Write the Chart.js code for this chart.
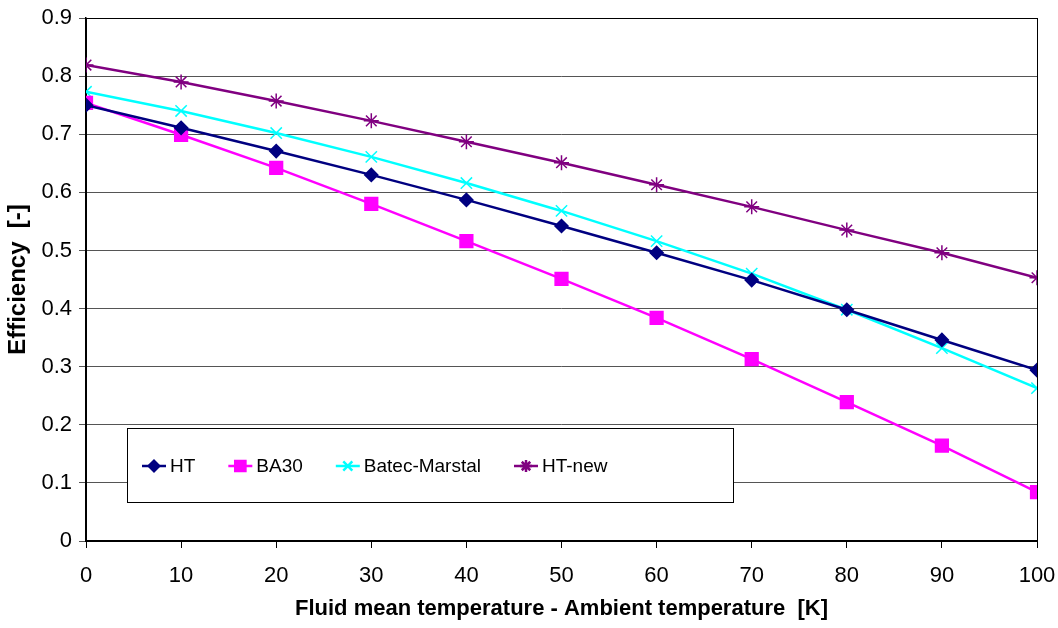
<!DOCTYPE html>
<html>
<head>
<meta charset="utf-8">
<script src="https://cdn.jsdelivr.net/npm/chart.js@4/dist/chart.umd.min.js"></script>
<style>
  html, body { margin: 0; padding: 0; background: #fff; }
  #wrap { width: 1058px; height: 628px; }
</style>
</head>
<body>
<div id="wrap"><canvas id="chart"></canvas></div>
<script>
const temps = [0, 10, 20, 30, 40, 50, 60, 70, 80, 90, 100];
const htValues = [0.750, 0.711, 0.671, 0.630, 0.587, 0.542, 0.496, 0.449, 0.398, 0.346, 0.294];
const ba30Values = [0.754, 0.699, 0.642, 0.580, 0.516, 0.451, 0.384, 0.313, 0.239, 0.164, 0.084];
const batecValues = [0.773, 0.740, 0.702, 0.661, 0.616, 0.568, 0.516, 0.460, 0.398, 0.332, 0.263];
const htNewValues = [0.819, 0.790, 0.757, 0.723, 0.687, 0.651, 0.613, 0.575, 0.535, 0.496, 0.453];
const seriesNames = ["HT", "BA30", "Batec-Marstal", "HT-new"];

const FONT = "'Liberation Sans', Arial, sans-serif";

function toPoints(values) {
    return temps.map((t, i) => ({ x: t, y: values[i] }));
}

const styles = [
    { color: "#000080", pointStyle: "rectRot", radius: 6.5 },
    { color: "#FF00FF", pointStyle: "rect", radius: 9 },
    { color: "#00FFFF", pointStyle: "crossRot", radius: 8 },
    { color: "#800080", pointStyle: "star", radius: 7.5 }
];

const allValues = [htValues, ba30Values, batecValues, htNewValues];

const datasets = allValues.map((vals, i) => ({
    label: seriesNames[i],
    data: toPoints(vals),
    borderColor: styles[i].color,
    backgroundColor: styles[i].color,
    pointBackgroundColor: styles[i].color,
    pointBorderColor: styles[i].color,
    pointStyle: styles[i].pointStyle,
    pointRadius: styles[i].radius,
    pointBorderWidth: 1.5,
    borderWidth: 2.5,
    tension: 0
}));

// frame around the plot area, drawn under the lines
const frame = {
    id: "frame",
    beforeDatasetsDraw(chart) {
        const { ctx, chartArea: a } = chart;
        ctx.save();
        ctx.strokeStyle = "#000";
        ctx.lineWidth = 1;
        ctx.strokeRect(a.left + 0.5, a.top + 0.5, a.right - a.left, a.bottom - a.top);
        ctx.restore();
    }
};

// legend box sitting inside the plot area
const boxLegend = {
    id: "boxLegend",
    afterDraw(chart) {
        const { ctx, chartArea: a } = chart;
        const left = a.left + 41, top = a.top + 410, w = 606, h = 74;
        ctx.save();
        ctx.fillStyle = "#fff";
        ctx.fillRect(left, top, w, h);
        ctx.strokeStyle = "#000";
        ctx.lineWidth = 1;
        ctx.strokeRect(left + 0.5, top + 0.5, w, h);

        ctx.font = "19px " + FONT;
        ctx.textBaseline = "middle";
        const cy = top + 38;
        let x = left + 15;
        seriesNames.forEach((name, i) => {
            const s = styles[i];
            ctx.strokeStyle = s.color;
            ctx.lineWidth = 2.5;
            ctx.beginPath();
            ctx.moveTo(x, cy);
            ctx.lineTo(x + 24, cy);
            ctx.stroke();
            ctx.fillStyle = s.color;
            Chart.helpers.drawPoint(ctx, {
                pointStyle: s.pointStyle,
                radius: s.radius * 0.8,
                borderWidth: 1.5,
                rotation: 0
            }, x + 12, cy);
            ctx.fillStyle = "#000";
            ctx.fillText(name, x + 28, cy + 1);
            x += 28 + ctx.measureText(name).width + 33;
        });
        ctx.restore();
    }
};

new Chart(document.getElementById("chart"), {
    type: "line",
    data: { datasets: datasets },
    options: {
        responsive: true,
        maintainAspectRatio: false,
        animation: false,
        layout: { padding: { left: 0, top: 18, right: 21, bottom: 0 } },
        plugins: {
            legend: { display: false },
            tooltip: { enabled: false }
        },
        scales: {
            x: {
                type: "linear",
                min: 0,
                max: 100,
                ticks: {
                    stepSize: 10,
                    color: "#000",
                    font: { family: FONT, size: 22 },
                    padding: 15
                },
                grid: {
                    drawOnChartArea: false,
                    color: "#000",
                    tickLength: 7
                },
                border: { color: "#000", width: 1.5 },
                title: {
                    display: true,
                    text: "Fluid mean temperature - Ambient temperature  [K]",
                    color: "#000",
                    font: { family: FONT, size: 22, weight: "bold" },
                    padding: { top: 2, bottom: 6 }
                },
                afterFit(scale) {
                    scale.height = 87;
                    scale.paddingLeft = 0;
                    scale.paddingRight = 0;
                }
            },
            y: {
                min: 0,
                max: 0.9,
                ticks: {
                    stepSize: 0.1,
                    color: "#000",
                    font: { family: FONT, size: 22 },
                    padding: 7,
                    callback: v => (Math.round(v * 10) / 10).toString()
                },
                grid: {
                    color: "#555",
                    lineWidth: 1,
                    tickLength: 7
                },
                border: { color: "#000", width: 1.5 },
                title: {
                    display: true,
                    text: "Efficiency  [-]",
                    color: "#000",
                    font: { family: FONT, size: 24, weight: "bold" },
                    padding: { top: 4, bottom: 0 }
                },
                afterFit(scale) {
                    scale.width = 86;
                    scale.paddingTop = 0;
                    scale.paddingBottom = 0;
                }
            }
        }
    },
    plugins: [frame, boxLegend]
});
</script>
</body>
</html>
